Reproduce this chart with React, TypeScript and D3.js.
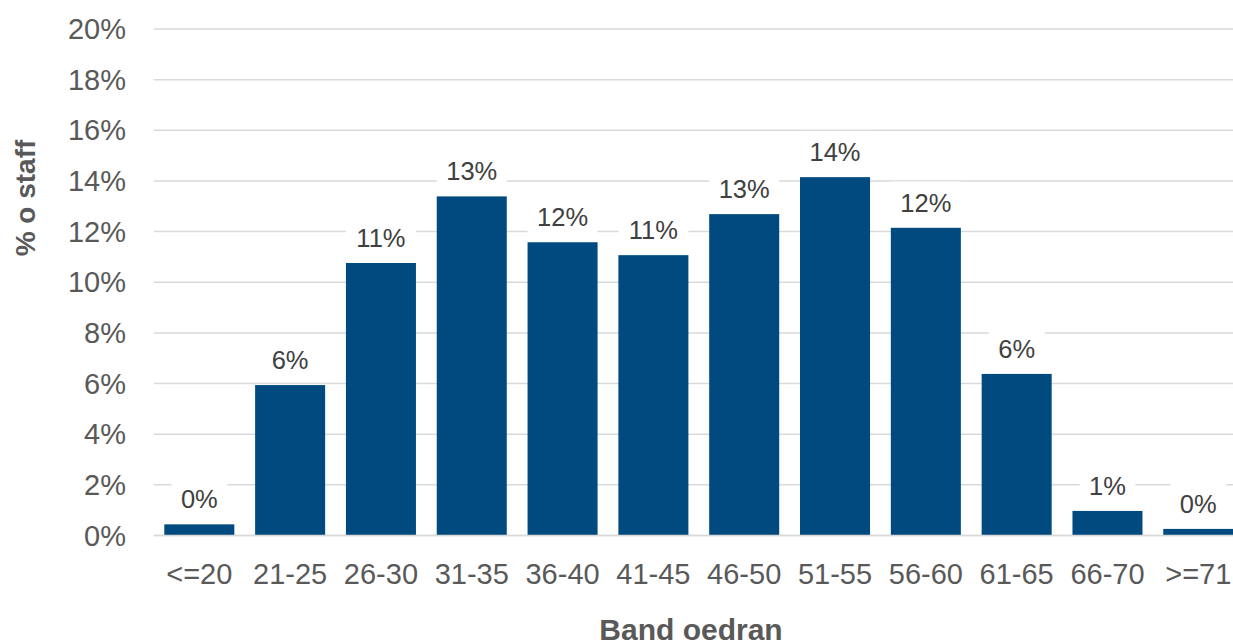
import React from "react";
import * as d3 from "d3";

const categories = ["<=20", "21-25", "26-30", "31-35", "36-40", "41-45", "46-50", "51-55", "56-60", "61-65", "66-70", ">=71"];
const values = [0.44, 5.94, 10.76, 13.39, 11.58, 11.07, 12.69, 14.15, 12.15, 6.38, 0.97, 0.26];
const yTicks = [0, 2, 4, 6, 8, 10, 12, 14, 16, 18, 20];
const yTitle = "% o staff";
const xTitle = "Band oedran";

const W = 1233;
const H = 642;
const FONT = "'Liberation Sans', Arial, Helvetica, sans-serif";
const BAR = "#004A7F";
const GRID = "#D9D9D9";
const TICK_COLOR = "#595959";
const LABEL_COLOR = "#404040";

// Arial glyph widths (em) for measuring label boxes
const cw: Record<string, number> = { "%": 0.889 };
function textWidth(s: string, size: number) {
  let w = 0;
  for (const c of s) w += cw[c] ?? 0.556;
  return w * size;
}

export default function App() {
  const x = d3.scaleBand<string>().domain(categories).range([153.9, 1243.7]).paddingInner(0.229).paddingOuter(0.1145);
  const y = d3.scaleLinear().domain([0, 20]).range([535.5, 29]);
  const labelSize = 25.5;

  return (
    <svg width={W} height={H} style={{ position: "absolute", left: 0, top: 0, background: "#fff" }} fontFamily={FONT}>
      {yTicks.map((t) => (
        <g key={t}>
          <line x1={153.9} x2={W} y1={y(t)} y2={y(t)} stroke={GRID} strokeWidth={1.5} />
          <text x={126} y={y(t)} dy="0.35em" textAnchor="end" fontSize={29} fill={TICK_COLOR}>
            {t}%
          </text>
        </g>
      ))}
      {categories.map((c, i) => {
        const v = values[i];
        const bx = x(c)!;
        const bw = x.bandwidth();
        const top = y(v);
        const cx = bx + bw / 2;
        const label = `${Math.round(v)}%`;
        const tw = textWidth(label, labelSize);
        const base = top - 16;
        return (
          <g key={c}>
            <rect x={bx} y={top} width={bw} height={y(0) - top} fill={BAR} />
            <rect x={cx - tw / 2 - 9.5} y={base - labelSize * 0.716 - 12} width={tw + 19} height={labelSize * 0.716 + 20} fill="#fff" />
            <text x={cx} y={base} textAnchor="middle" fontSize={labelSize} fill={LABEL_COLOR}>
              {label}
            </text>
            <text x={cx} y={583.5} textAnchor="middle" fontSize={29} fill={TICK_COLOR}>
              {c}
            </text>
          </g>
        );
      })}
      <line x1={153.9} x2={W} y1={y(0)} y2={y(0)} stroke={GRID} strokeWidth={1.5} />
      <text transform={`translate(35,198) rotate(-90)`} textAnchor="middle" fontSize={28} fontWeight="bold" fill={TICK_COLOR}>
        {yTitle}
      </text>
      <text x={691} y={639.5} textAnchor="middle" fontSize={30} fontWeight="bold" fill={TICK_COLOR}>
        {xTitle}
      </text>
    </svg>
  );
}
